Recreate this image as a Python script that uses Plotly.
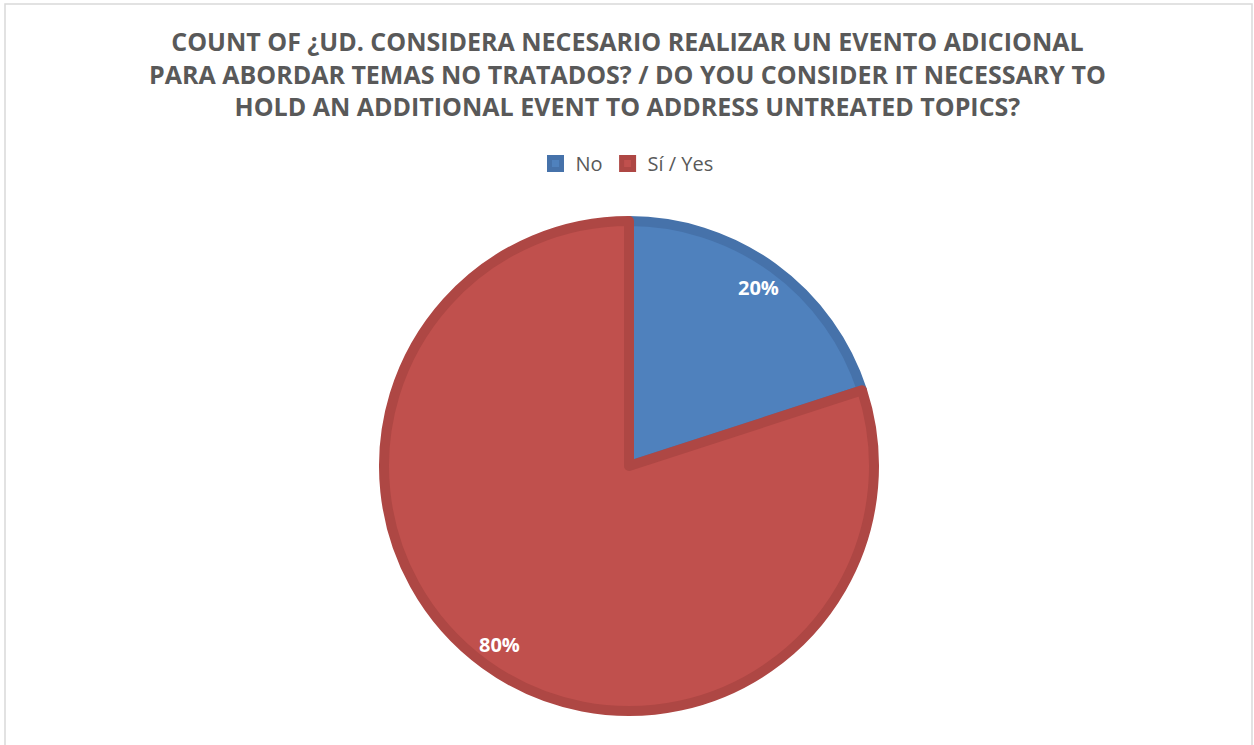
import math
import plotly.graph_objects as go

labels = ["No", "Sí / Yes"]
values = [20, 80]
fill_colors = ["#4F81BD", "#C0504D"]
line_colors = ["#4672AA", "#AE4744"]
title_lines = [
    "COUNT OF ¿UD. CONSIDERA NECESARIO REALIZAR UN EVENTO ADICIONAL",
    "PARA ABORDAR TEMAS NO TRATADOS? / DO YOU CONSIDER IT NECESSARY TO",
    "HOLD AN ADDITIONAL EVENT TO ADDRESS UNTREATED TOPICS?",
]

W, H = 1254, 745
cx, cy, r = 629, 466, 245

fig = go.Figure()
fig.add_trace(go.Pie(
    labels=labels, values=values, sort=False, direction="clockwise", rotation=0,
    marker=dict(colors=fill_colors, line=dict(color=line_colors, width=10)),
    textinfo="none", hoverinfo="label+percent",
    domain=dict(x=[(cx - r) / W, (cx + r) / W], y=[(H - cy - r) / H, (H - cy + r) / H]),
))

# percentage labels placed along each slice's mid-angle
total = sum(values)
start = 0.0
for v in values:
    mid = (start + v / 2) / total * 2 * math.pi
    start += v
    lr = 0.9 * r
    x = (cx + lr * math.sin(mid)) / W
    y = (H - (cy - lr * math.cos(mid))) / H
    fig.add_annotation(x=x, y=y, xref="paper", yref="paper", showarrow=False,
                       xanchor="center", yanchor="middle",
                       text=f"<b>{round(v / total * 100)}%</b>",
                       font=dict(family="Open Sans", size=20, color="white"))

fig.add_annotation(x=0.5, y=1 - 22 / H, xref="paper", yref="paper", showarrow=False,
                   xanchor="center", yanchor="top", align="center",
                   text="<b>" + "<br>".join(title_lines) + "</b>",
                   font=dict(family="Open Sans", size=25, color="#595959"))

fig.update_layout(
    width=W, height=H,
    margin=dict(l=0, r=0, t=0, b=0),
    paper_bgcolor="white",
    font=dict(family="Open Sans", color="#595959"),
    legend=dict(orientation="h", x=0.5, xanchor="center", y=1 - 144 / H, yanchor="top",
                font=dict(family="Open Sans", size=20, color="#595959"),
                itemwidth=30, traceorder="normal"),
    showlegend=True,
    shapes=[dict(type="rect", xref="paper", yref="paper", x0=5 / W, x1=1252 / W,
                 y0=-0.01, y1=1 - 4 / H, line=dict(color="#D9D9D9", width=1.5))],
)

fig.write_html("out.html")
